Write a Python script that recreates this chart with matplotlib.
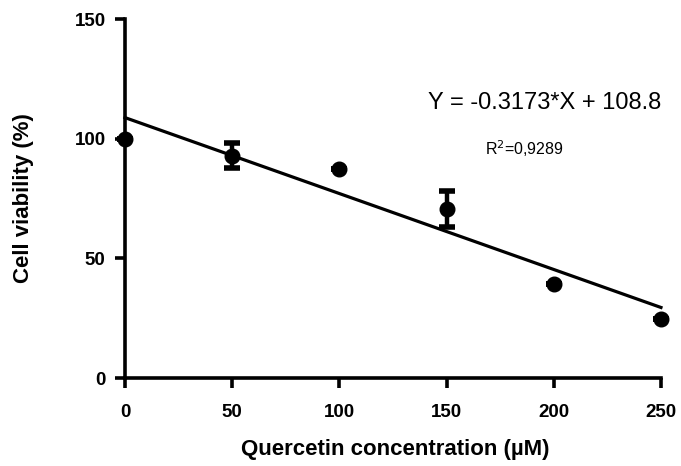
import matplotlib.pyplot as plt
import numpy as np

plt.rcParams['font.family'] = ['Liberation Sans', 'DejaVu Sans']

conc = [0, 50, 100, 150, 200, 250]
viability = [100, 92.8, 87.3, 70.6, 39.3, 24.7]
err = [0, 5.2, 0, 7.7, 0, 0]
slope = -0.3173
intercept = 108.8
x_ticks = [0, 50, 100, 150, 200, 250]
y_ticks = [0, 50, 100, 150]

fig = plt.figure(figsize=(6.81, 4.66), dpi=100)
ax = fig.add_axes([0.1836, 0.1888, 0.787, 0.7704])

ax.errorbar(conc, viability, yerr=err, fmt='o', color='black', ms=10.5,
            elinewidth=3.2, capsize=5.5, capthick=4, clip_on=False, zorder=3)

# linear fit line
xf = np.array([conc[0], conc[-1]])
ax.plot(xf, slope * xf + intercept, color='black', lw=2.3, clip_on=False)

ax.set_xlim(0, 250)
ax.set_ylim(0, 150)
ax.set_xticks(x_ticks)
ax.set_yticks(y_ticks)
ax.spines[['top', 'right']].set_visible(False)
for s in ['left', 'bottom']:
    ax.spines[s].set_linewidth(2.6)
ax.tick_params(direction='out', length=7, width=2.6, labelsize=13.5)
ax.tick_params(axis='x', pad=12)
ax.tick_params(axis='y', pad=7)
for lab in ax.get_xticklabels() + ax.get_yticklabels():
    lab.set_fontweight('bold')

ax.set_xlabel('Quercetin concentration (µM)', fontsize=16, fontweight='bold')
ax.set_ylabel('Cell viability (%)', fontsize=16, fontweight='bold')
ax.xaxis.set_label_coords(0.504, -0.17)
ax.yaxis.set_label_coords(-0.17, 0.5)

ax.text(1.0, 0.766, 'Y = -0.3173*X + 108.8', transform=ax.transAxes,
        ha='right', va='center', fontsize=17)
ax.text(0.745, 0.64, r'R$^{2}$=0,9289', transform=ax.transAxes,
        ha='center', va='center', fontsize=11.5)

fig.savefig('out.png', dpi=100)
